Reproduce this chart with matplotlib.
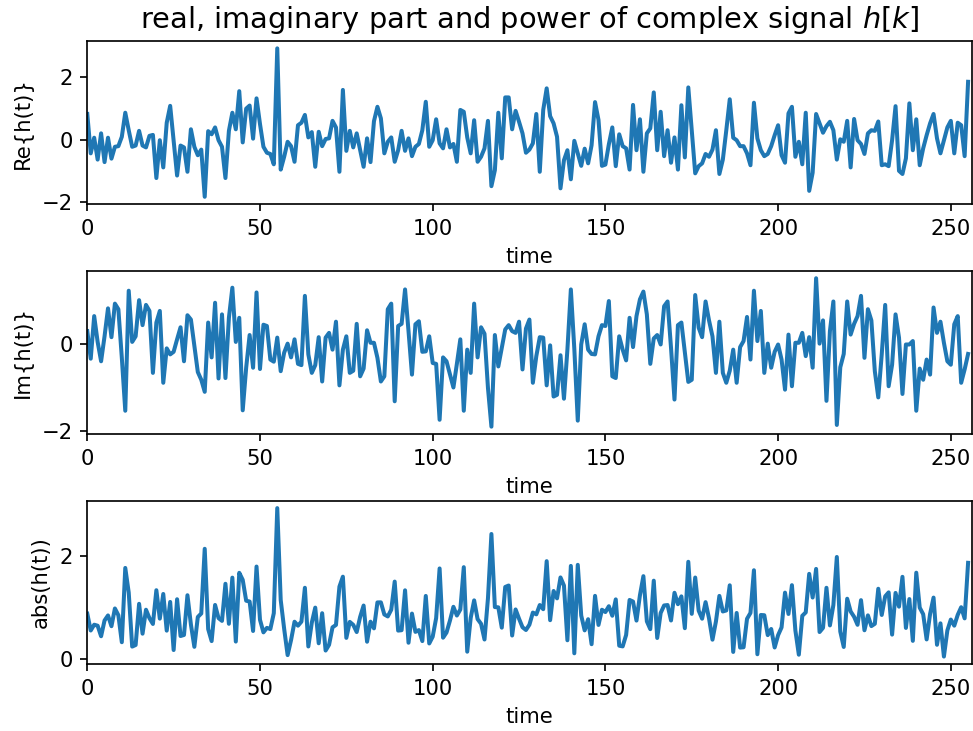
import numpy as np
import matplotlib.pyplot as plt

# real part of h[k], k = 0..255
re_part = [
    0.82, -0.44, 0.06, -0.64, 0.20, -0.72, 0.06, -0.61, -0.23, -0.21,
    0.09, 0.86, 0.30, -0.23, -0.19, 0.28, -0.19, -0.25, 0.12, 0.15,
    -1.23, -0.02, -0.89, 0.54, 1.08, -0.02, -1.15, -0.19, -0.25, -1.03,
    0.33, -0.23, -0.50, -0.32, -1.83, 0.27, 0.17, 0.39, -0.02, -0.23,
    -1.23, 0.28, 0.86, 0.33, 1.55, -0.09, 0.99, 1.09, 0.03, 1.32,
    0.50, -0.23, -0.42, -0.46, -0.79, 2.92, -0.96, -0.55, -0.07, -0.21,
    -0.71, 0.46, 0.54, 0.79, 0.07, 0.24, -0.87, 0.25, -0.21, 0.02,
    0.04, 0.60, 0.39, -1.03, 1.59, -0.36, 0.28, -0.25, 0.20, -0.34,
    -0.87, 0.04, -0.72, 0.59, 1.05, 0.68, -0.44, -0.07, 0.07, -0.71,
    -0.34, 0.28, -0.36, 0.04, -0.53, -0.23, -0.14, 0.30, 1.21, -0.23,
    -0.02, 0.65, -0.12, -0.28, 0.33, -0.25, -0.14, -0.71, 0.95, 0.89,
    0.07, -0.44, 0.62, -0.71, -0.55, -0.28, 0.60, -1.49, -0.98, 0.86,
    -0.60, 1.35, 1.35, 0.33, 0.92, 0.57, 0.20, -0.42, -0.32, -0.12,
    0.82, -1.03, 0.95, 1.64, 0.75, 0.52, 0.09, -1.56, -0.66, -0.34,
    -1.27, -0.04, -0.44, -0.84, -0.29, -0.76, -0.18, 1.20, 0.63, -0.84,
    -0.80, -0.15, 0.39, -0.85, 0.17, -0.21, -0.28, -0.96, 1.11, -0.34,
    0.65, -1.03, 0.20, 0.36, 1.51, -0.34, 0.89, -0.53, 0.30, -0.74,
    0.07, -0.96, 1.10, -0.57, 1.67, 0.30, -1.08, -0.85, -0.76, -0.46,
    -0.55, -0.32, 0.30, -1.10, -0.64, 0.30, 1.29, 0.06, -0.02, -0.21,
    -0.21, -0.44, -0.82, 1.18, 0.04, -0.34, -0.53, -0.46, -0.21, 0.14,
    0.46, -0.50, -0.74, 0.84, 1.05, -0.55, -0.07, -0.79, 0.86, -1.64,
    -1.06, 0.82, 0.52, 0.22, 0.43, 0.57, 0.30, -0.64, 0.01, -0.07,
    0.60, -0.89, 0.66, -0.02, -0.14, -0.46, 0.20, 0.30, 0.28, 0.58,
    -0.82, -0.79, -0.85, -0.02, 1.07, -1.00, -1.10, -0.60, 1.16, -0.34,
    0.65, -0.82, -0.28, 0.14, 0.52, 0.82, 0.04, -0.44, -0.02, 0.39,
    0.60, -0.44, 0.54, 0.46, -0.53, 1.85,
]

# imaginary part of h[k]
im_part = [
    0.31, -0.33, 0.66, 0.06, -0.39, 0.19, 0.84, 0.17, 0.95, 0.82,
    -0.31, -1.54, 1.25, 0.06, 0.19, 1.03, 0.45, 0.92, 0.78, -0.66,
    0.51, 0.78, -0.89, -0.09, -0.23, -0.17, 0.12, 0.40, -0.39, 0.68,
    0.58, -0.04, -0.64, -0.82, -1.10, 0.51, -0.30, 0.97, -0.79, 0.70,
    -0.78, 0.62, 1.32, 0.06, 0.62, -1.53, -0.54, 0.22, -0.54, 1.21,
    -0.57, 0.46, 0.43, -0.35, -0.40, 0.16, -0.62, -0.19, 0.02, -0.30,
    0.12, -0.45, -0.48, 1.13, -0.23, -0.66, -0.48, 0.17, -0.86, 0.16,
    0.27, -0.12, 0.53, -0.95, -0.12, 0.19, -0.66, -0.61, 0.48, -0.74,
    -0.56, 0.33, 0.04, 0.04, -0.31, -0.86, -0.74, 0.82, 0.95, -1.32,
    0.43, 0.48, 1.28, 0.31, -0.70, 0.47, 0.54, -0.17, -0.16, 0.19,
    -0.43, -0.45, -1.75, -0.30, -0.39, -0.70, -1.00, -0.45, 0.12, -1.54,
    -0.12, -0.66, 0.95, -0.30, 0.40, 0.25, -1.01, -1.91, 0.22, -0.51,
    -0.08, 0.35, 0.45, 0.31, 0.27, 0.53, -0.58, 0.37, 0.58, -0.89,
    -0.27, 0.17, 0.16, -0.95, -0.02, -1.21, -1.17, -0.25, -1.26, -0.12,
    1.28, -0.10, -1.77, 0.00, 0.47, -0.12, -0.22, -0.23, 0.19, 0.45,
    0.43, 1.01, -0.74, -0.78, 0.19, -0.12, -0.37, 0.62, -0.06, 0.66,
    1.05, 1.23, 0.70, -0.45, 0.14, 0.22, 0.00, 0.89, 1.00, -0.08,
    -1.28, 0.45, 0.51, -0.17, -0.87, -0.82, 1.15, 0.39, 0.17, 1.00,
    0.56, 0.19, -0.66, 0.53, -0.66, -0.89, -0.61, -0.12, -0.89, -0.06,
    0.08, 0.64, -0.35, 1.25, 0.08, 0.78, -0.66, 0.02, -0.54, -0.17,
    0.00, -0.35, -1.05, 0.23, -0.97, 0.04, 0.04, 0.27, -0.27, 0.17,
    -0.54, 1.54, 0.02, 0.56, -1.31, 0.31, 1.00, -1.87, -0.53, -0.22,
    1.00, 0.23, 0.48, 0.66, 1.13, -0.31, 0.82, 0.56, -0.62, -1.23,
    -0.23, 0.92, -0.97, -0.47, 0.70, 0.16, -1.15, 0.00, 0.00, 0.08,
    -1.54, -0.56, -0.82, -0.35, -0.70, 0.86, 0.27, 0.53, 0.04, -0.39,
    -0.47, 0.47, 0.66, -0.89, -0.58, -0.22,
]

h = np.array(re_part) + 1j * np.array(im_part)
N = len(h)
t = np.arange(N)

dpi = 152
fig = plt.figure(figsize=(973 / dpi, 731 / dpi), dpi=dpi)
lw = 1.9

plt.subplot(3, 1, 1)
plt.plot(t, h.real, linewidth=lw)
plt.title("real, imaginary part and power of complex signal $h[k]$", fontsize=13.7)
plt.xlabel("time")
plt.ylabel("Re{h(t)}")
plt.xlim(0, N)

plt.subplot(3, 1, 2)
plt.plot(t, h.imag, linewidth=lw)
plt.xlabel("time")
plt.ylabel("Im{h(t)}")
plt.xlim(0, N)

plt.subplot(3, 1, 3)
plt.plot(t, np.abs(h), linewidth=lw)
plt.xlabel("time")
plt.ylabel("abs(h(t))")
plt.xlim(0, N)

plt.subplots_adjust(left=0.0897, right=0.9985, top=0.944, bottom=0.0917, hspace=0.408)
plt.savefig("out.png")
